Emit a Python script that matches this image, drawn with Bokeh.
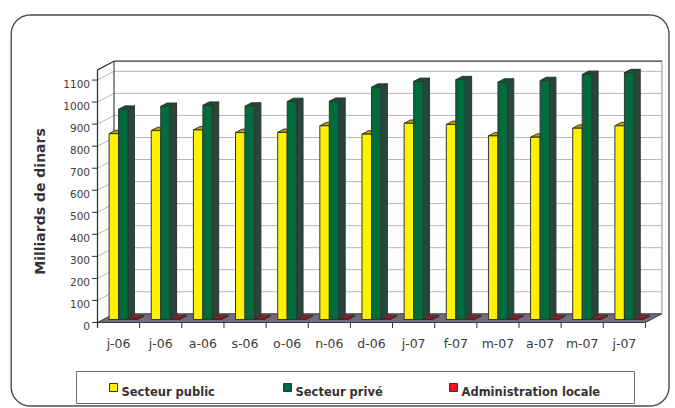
import numpy as np
from bokeh.plotting import figure
from bokeh.models import Range1d, ColumnDataSource
from bokeh.core.properties import value
from bokeh.embed import file_html
from bokeh.resources import INLINE

# ---------------- data ----------------
categories = ["j-06", "j-06", "a-06", "s-06", "o-06", "n-06", "d-06",
              "j-07", "f-07", "m-07", "a-07", "m-07", "j-07"]
secteur_public = [843, 857, 860, 848, 849, 879, 841, 890, 885, 833, 827, 868, 879]
secteur_prive = [954, 967, 972, 968, 989, 990, 1054, 1080, 1088, 1077, 1084, 1112, 1120]
administration_locale = [4, 4, 4, 4, 4, 4, 4, 4, 4, 4, 4, 4, 4]
series_names = ["Secteur public", "Secteur privé", "Administration locale"]
y_ticks = [0, 100, 200, 300, 400, 500, 600, 700, 800, 900, 1000, 1100]
y_tick_labels = [str(t) for t in y_ticks]
y_axis_title = "Milliards de dinars"
y_axis_top = 1146

# ---------------- styles ----------------
face_colors = [
    ("#fff200", "#bba400", "#9e9000"),   # front, top, side
    ("#006b3d", "#0f5534", "#27473a"),
    ("#e8141f", "#b3121a", "#7c1a1f"),
]
FONT = value("DejaVu Sans")

# ---------------- geometry (page pixels) ----------------
W, H = 675, 408
MARGIN = 0
X0_PX, Y0_PX = 97.0, 322.0          # front-plane origin
PX_PER_CAT = 42.15
PX_PER_UNIT = 0.2204
DEPTH_X_PX, DEPTH_Y_PX = 16.5, 8.7


def dx(px):
    return (px - X0_PX) / PX_PER_CAT


def dy(py):
    return (Y0_PX - py) / PX_PER_UNIT


DXc = DEPTH_X_PX / PX_PER_CAT
DYv = DEPTH_Y_PX / PX_PER_UNIT
N = len(categories)

p = figure(width=W, height=H,
           x_range=Range1d(dx(MARGIN), dx(MARGIN + W)),
           y_range=Range1d(dy(MARGIN + H), dy(MARGIN)),
           output_backend="svg", toolbar_location=None,
           x_axis_location=None, y_axis_location=None, min_border=0)
p.min_border_left = p.min_border_right = p.min_border_top = p.min_border_bottom = 0
p.outline_line_color = None
p.grid.visible = False
p.background_fill_color = "white"
p.border_fill_color = "white"

# ---------------- outer rounded border ----------------
bl, br, bt, bb, rad = 10.7, 668.5, 14.5, 405.5, 19.0
bx, by = [], []
for cx, cy, a0, a1 in [(br - rad, bt + rad, 0, 90), (bl + rad, bt + rad, 90, 180),
                       (bl + rad, bb - rad, 180, 270), (br - rad, bb - rad, 270, 360)]:
    a = np.radians(np.linspace(a0, a1, 14))
    bx += list(cx + rad * np.cos(a))
    by += list(cy - rad * np.sin(a))
bx.append(bx[0]); by.append(by[0])
p.line([dx(v) for v in bx], [dy(v) for v in by], line_color="#4d4d4d", line_width=1.4)

# ---------------- walls & gridlines ----------------
grid_xs = [[0, DXc, N + DXc] for t in y_ticks[1:]]
grid_ys = [[t, t + DYv, t + DYv] for t in y_ticks[1:]]
p.multi_line(grid_xs, grid_ys, line_color="#bdb3bd", line_width=1)

# floor
p.patch([0, N, N + DXc, DXc], [0, 0, DYv, DYv], fill_color="#736a7b",
        line_color="#3a3a3a", line_width=1)

# wall edges
p.line([DXc, DXc], [DYv, y_axis_top + DYv], line_color="#444444", line_width=1.2)
p.line([N + DXc, N + DXc], [DYv, y_axis_top + DYv], line_color="#8c8c8c", line_width=1)
p.line([0, 0, DXc, N + DXc], [dy(327), y_axis_top, y_axis_top + DYv, y_axis_top + DYv],
       line_color="#333333", line_width=1.3)

# y ticks and labels
p.segment(x0=[dx(91.5)] * len(y_ticks), y0=y_ticks, x1=[0] * len(y_ticks), y1=y_ticks,
          line_color="#333333", line_width=1)
p.text(x=[dx(89.5)] * len(y_ticks), y=[t - 3.8 / PX_PER_UNIT for t in y_ticks],
       text=y_tick_labels, text_font=FONT, text_font_size="10.5px",
       text_align="right", text_baseline="alphabetic", text_color="#3c3c3c")

# x ticks and labels
p.segment(x0=list(range(N + 1)), y0=[0] * (N + 1), x1=list(range(N + 1)),
          y1=[dy(327.5)] * (N + 1), line_color="#333333", line_width=1)
p.text(x=[i + 0.5 for i in range(N)], y=[dy(343.3)] * N, text=categories,
       text_font=FONT, text_font_size="12.5px", text_align="center",
       text_baseline="alphabetic", text_color="#3c3c3c")

# y axis title
p.text(x=[dx(39.5)], y=[dy(201)], text=[y_axis_title], angle=np.pi / 2,
       text_font=FONT, text_font_size="14px", text_font_style="bold",
       text_align="center", text_baseline="middle", text_color="#333333")

# ---------------- 3D bars ----------------
G0 = 5.9 / PX_PER_CAT
BW = 9.5 / PX_PER_CAT
F0, F1 = 0.345, 0.73
dx0, dy0, dx1, dy1 = F0 * DXc, F0 * DYv, F1 * DXc, F1 * DYv

xs, ys, fills = [], [], []
series = [secteur_public, secteur_prive, administration_locale]
for i in range(N):
    for s, vals in enumerate(series):
        v = vals[i]
        L = i + G0 + s * BW
        R = L + BW
        front, top, side = face_colors[s]
        # side face
        xs.append([R + dx0, R + dx1, R + dx1, R + dx0])
        ys.append([dy0, dy1, v + dy1, v + dy0])
        fills.append(side)
        # top face
        xs.append([L + dx0, R + dx0, R + dx1, L + dx1])
        ys.append([v + dy0, v + dy0, v + dy1, v + dy1])
        fills.append(top)
        # front face
        xs.append([L + dx0, R + dx0, R + dx0, L + dx0])
        ys.append([dy0, dy0, v + dy0, v + dy0])
        fills.append(front)

src = ColumnDataSource(dict(xs=xs, ys=ys, fill=fills))
p.patches("xs", "ys", source=src, fill_color="fill", line_color="#333333", line_width=1)

# ---------------- legend ----------------
p.quad(left=[dx(76)], right=[dx(634)], top=[dy(371)], bottom=[dy(403)],
       fill_color=None, line_color="#6e6e6e", line_width=1)
sw_x = [109, 283, 449]
p.quad(left=[dx(v) for v in sw_x], right=[dx(v + 8) for v in sw_x],
       top=[dy(383)] * 3, bottom=[dy(391)] * 3,
       fill_color=[c[0] for c in face_colors], line_color="#333333", line_width=1)
p.text(x=[dx(v + 12) for v in sw_x], y=[dy(391.2)] * 3, text=series_names,
       text_font=FONT, text_font_size="11.5px", text_font_style="bold",
       text_align="left", text_baseline="alphabetic", text_color="#333333")

open("out.html", "w").write(file_html(p, INLINE))
